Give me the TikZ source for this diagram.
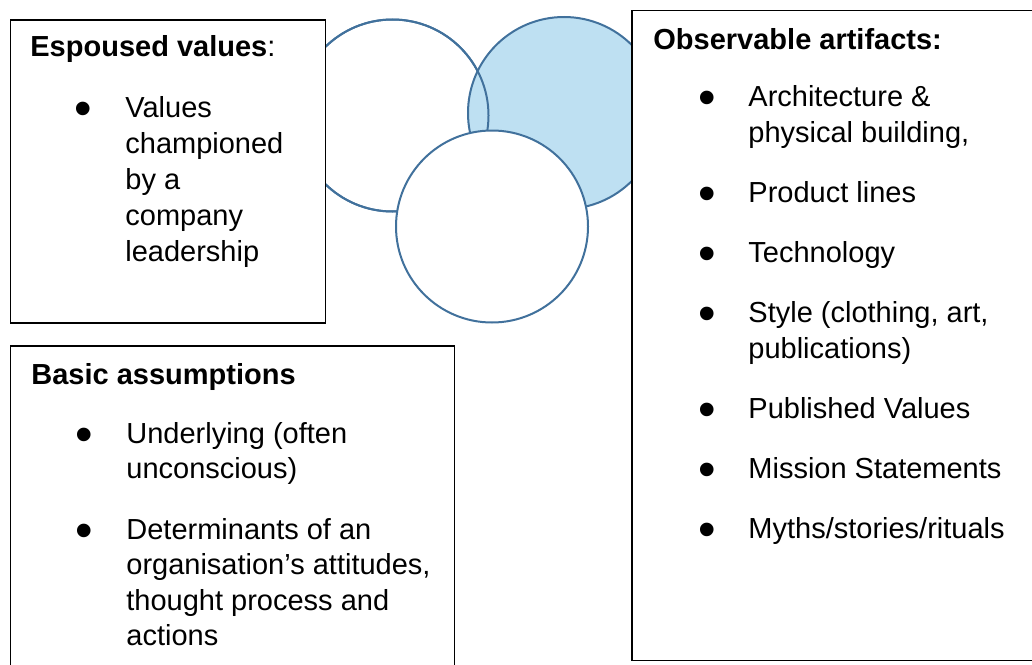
\documentclass[tikz,border=0pt]{standalone}
\usepackage{fontspec}
\setmainfont{Liberation Sans}
\definecolor{circline}{RGB}{65,113,156}
\definecolor{circfill}{RGB}{190,224,242}
\tikzset{
  circ/.style={circle, draw=circline, line width=1pt, minimum size=96pt, inner sep=0pt},
  box/.style={draw=black, line width=0.75pt, fill=white, inner sep=0pt, anchor=north west},
  txt/.style={font=\fontsize{14.5}{17}\selectfont, inner sep=0pt, anchor=base west},
  ttl/.style={txt, font=\fontsize{14.5}{17}\selectfont\bfseries},
  bul/.style={font=\fontsize{25}{25}\selectfont, inner sep=0pt, anchor=base, yshift=-4pt}
}
\begin{document}
\begin{tikzpicture}[x=0.5pt,y=-0.5pt]
\useasboundingbox (0,0) rectangle (1032,664);
\clip (0,0) rectangle (1032,664);
% circles
\node[circ, fill=white] (cl) at (392.5,115.5) {};
\node[circ, fill=circfill] (cr) at (564,113) {};
\draw[circline, line width=1pt] (cl.center) circle[radius=48pt];
\node[circ, fill=white] (cb) at (492,226.5) {};
% boxes
\node[box, minimum width=157.5pt, minimum height=151.5pt] (ev) at (9.5,19) {};
\node[box, minimum width=210pt, minimum height=325pt] (oa) at (631,9.5) {};
\node[box, minimum width=222pt, minimum height=170pt] (ba) at (9.5,345) {};
% espoused values
\node[txt] (evt) at (30,56) {\textbf{Espoused values}:};
\node[bul] (evb1) at (83,117) {•};
\node[txt] (ev1) at (125,117) {Values};
\node[txt] (ev2) at (125,153) {championed};
\node[txt] (ev3) at (125,189) {by a};
\node[txt] (ev4) at (125,225) {company};
\node[txt] (ev5) at (125,261) {leadership};
% basic assumptions
\node[ttl] (bat) at (31,384) {Basic assumptions};
\node[bul] (bab1) at (84,443) {•};
\node[txt] (ba1) at (126,443) {Underlying (often};
\node[txt] (ba2) at (126,478.5) {unconscious)};
\node[bul] (bab2) at (84,539) {•};
\node[txt] (ba3) at (126,539) {Determinants of an};
\node[txt] (ba4) at (126,574.5) {organisation’s attitudes,};
\node[txt] (ba5) at (126,610) {thought process and};
\node[txt] (ba6) at (126,645.5) {actions};
% observable artifacts
\node[ttl] (oat) at (653,49) {Observable artifacts:};
\node[bul] (oab1) at (707,106) {•};
\node[txt] (oa1) at (748,106) {Architecture \&};
\node[txt] (oa2) at (748,142) {physical building,};
\node[bul] (oab2) at (707,202) {•};
\node[txt] (oa3) at (748,202) {Product lines};
\node[bul] (oab3) at (707,262) {•};
\node[txt] (oa4) at (748,262) {Technology};
\node[bul] (oab4) at (707,322) {•};
\node[txt] (oa5) at (748,322) {Style (clothing, art,};
\node[txt] (oa6) at (748,358) {publications)};
\node[bul] (oab5) at (707,418) {•};
\node[txt] (oa7) at (748,418) {Published Values};
\node[bul] (oab6) at (707,478) {•};
\node[txt] (oa8) at (748,478) {Mission Statements};
\node[bul] (oab7) at (707,538) {•};
\node[txt] (oa9) at (748,538) {Myths/stories/rituals};
\end{tikzpicture}
\end{document}
